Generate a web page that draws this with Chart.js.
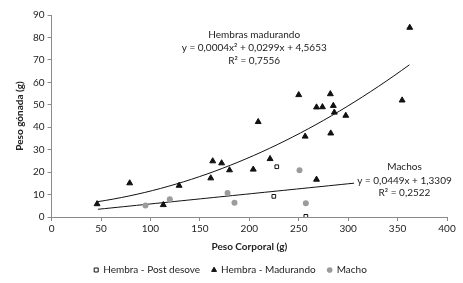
<!DOCTYPE html>
<html>
<head>
<meta charset="utf-8">
<script src="https://cdn.jsdelivr.net/npm/chart.js@4/dist/chart.umd.min.js"></script>
<style>
  html, body { margin: 0; padding: 0; background: #fff; }
  #wrap { width: 463px; height: 283px; }
</style>
</head>
<body>
<div id="wrap"><canvas id="gonadChart"></canvas></div>
<script>
// Hembra - Post desove
const postX = [227.8, 224.8, 257.2];
const postY = [22.4, 9.2, 0.3];

// Hembra - Madurando
const madX = [46, 79, 113, 129, 161, 163, 172, 180, 204, 209, 221, 250, 256.5, 268, 268, 274, 282, 282.4, 285, 286, 297.6, 354.6, 362.3];
const madY = [5.8, 15.1, 5.4, 14, 17.3, 24.9, 24, 20.9, 21.2, 42.4, 25.9, 54.4, 35.9, 48.9, 16.7, 49, 54.8, 37.3, 49.6, 46.6, 45.2, 52, 84.4];

// Macho
const machoX = [95, 119.6, 178, 185, 250.8, 257.2];
const machoY = [5.1, 7.9, 10.7, 6.3, 20.8, 6.1];

// trend lines (coefficients as printed on the chart)
const hembraCoef = [0.0004, 0.0299, 4.5653];
const hembraRange = [47, 362];
const machoCoef = [0.0449, 1.3309];
const machoRange = [47, 306];

const legendLabels = ["Hembra - Post desove", "Hembra - Madurando", "Macho"];
const hembraText = ["Hembras madurando", "y = 0,0004x² + 0,0299x + 4,5653", "R² = 0,7556"];
const machoText = ["Machos", "y = 0,0449x + 1,3309", "R² = 0,2522"];

const toPoints = (xs, ys) => xs.map((x, i) => ({ x: x, y: ys[i] }));

function curve(range, fn) {
  const pts = [];
  const n = 40;
  for (let i = 0; i <= n; i++) {
    const x = range[0] + (range[1] - range[0]) * i / n;
    pts.push({ x: x, y: fn(x) });
  }
  return pts;
}

const hembraTrend = curve(hembraRange, x => hembraCoef[0] * x * x + hembraCoef[1] * x + hembraCoef[2]);
const machoTrend = curve(machoRange, x => machoCoef[0] * x + machoCoef[1]);

const FONT = "Lato, 'Open Sans', sans-serif";
const TEXT = "#222";

const labelPlugin = {
  id: "trendLabels",
  afterDatasetsDraw(chart) {
    const { ctx, scales } = chart;
    ctx.save();
    ctx.fillStyle = TEXT;
    ctx.font = "10px " + FONT;
    ctx.textAlign = "center";
    ctx.textBaseline = "middle";
    const put = (lines, xv, yvs) => {
      lines.forEach((t, i) => {
        ctx.fillText(t, scales.x.getPixelForValue(xv), scales.y.getPixelForValue(yvs[i]));
      });
    };
    put(hembraText, 205, [81.4, 75.5, 69.7]);
    put(machoText, 357, [22.4, 16.1, 10.7]);
    ctx.restore();
  }
};

function createGonadChart() {
  const data = {
    datasets: [
      {
        label: legendLabels[0],
        data: toPoints(postX, postY),
        pointStyle: "rect",
        pointRadius: 2.6,
        backgroundColor: "#fff",
        borderColor: "#111",
        borderWidth: 1,
        showLine: false,
      },
      {
        label: legendLabels[1],
        data: toPoints(madX, madY),
        pointStyle: "triangle",
        pointRadius: 3.4,
        backgroundColor: "#111",
        borderColor: "#111",
        borderWidth: 1,
        showLine: false,
      },
      {
        label: legendLabels[2],
        data: toPoints(machoX, machoY),
        pointStyle: "circle",
        pointRadius: 3,
        backgroundColor: "#9c9c9c",
        borderColor: "#9c9c9c",
        borderWidth: 0,
        showLine: false,
      },
      {
        label: "trend1",
        data: hembraTrend,
        showLine: true,
        borderColor: "#111",
        borderWidth: 1,
        pointRadius: 0,
        fill: false,
      },
      {
        label: "trend2",
        data: machoTrend,
        showLine: true,
        borderColor: "#111",
        borderWidth: 1,
        pointRadius: 0,
        fill: false,
      },
    ],
  };

  const config = {
    type: "scatter",
    data: data,
    plugins: [labelPlugin],
    options: {
      responsive: false,
      animation: false,
      layout: { padding: { top: 15, right: 16, left: 14, bottom: -2 } },
      scales: {
        x: {
          type: "linear",
          min: 0,
          max: 400,
          ticks: { stepSize: 50, color: TEXT, font: { family: FONT, size: 10 }, padding: 2 },
          grid: { drawOnChartArea: false, drawTicks: true, tickLength: 4, color: "#8a8a8a" },
          border: { color: "#8a8a8a" },
          title: { display: true, text: "Peso Corporal (g)", color: TEXT, font: { family: FONT, size: 10, weight: "bold" }, padding: { top: 4, bottom: 0 } },
        },
        y: {
          min: 0,
          max: 90,
          ticks: { stepSize: 10, color: TEXT, font: { family: FONT, size: 10 }, padding: 3 },
          grid: { drawOnChartArea: false, drawTicks: true, tickLength: 4, color: "#8a8a8a" },
          border: { color: "#8a8a8a" },
          title: { display: true, text: "Peso gónada (g)", color: TEXT, font: { family: FONT, size: 10, weight: "bold" }, padding: { top: 0, bottom: 4 } },
        },
      },
      plugins: {
        legend: {
          position: "bottom",
          labels: {
            usePointStyle: true,
            boxWidth: 4,
            boxHeight: 4,
            padding: 12,
            color: TEXT,
            font: { family: FONT, size: 10 },
            filter: (item) => item.datasetIndex < 3,
          },
        },
        tooltip: { enabled: false },
      },
    },
  };

  const canvas = document.getElementById("gonadChart");
  canvas.width = 463;
  canvas.height = 283;
  new Chart(canvas, config);
}

document.addEventListener("DOMContentLoaded", () => {
  createGonadChart();
});
</script>
</body>
</html>
